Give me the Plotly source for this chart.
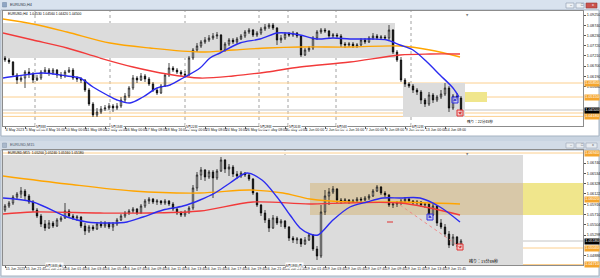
import plotly.graph_objects as go

W, H = 600, 278

# ---------------- DATA : upper window (EURUSD,H4) ----------------
TOP_OPEN = [
1.0710,1.0700,1.0690,1.0625,1.0600,1.0610,1.0640,1.0630,1.0600,1.0610,
1.0640,1.0650,1.0635,1.0650,1.0625,1.0620,1.0640,1.0650,1.0610,1.0605,
1.0600,1.0550,1.0480,1.0425,1.0440,1.0455,1.0460,1.0470,1.0460,1.0470,
1.0500,1.0520,1.0560,1.0610,1.0600,1.0620,1.0605,1.0580,1.0550,1.0535,
1.0570,1.0625,1.0660,1.0650,1.0640,1.0630,1.0625,1.0710,1.0750,1.0770,
1.0790,1.0800,1.0810,1.0820,1.0825,1.0750,1.0780,1.0800,1.0790,1.0805,
1.0820,1.0840,1.0850,1.0825,1.0835,1.0855,1.0865,1.0875,1.0860,1.0800,
1.0810,1.0830,1.0825,1.0835,1.0820,1.0725,1.0750,1.0760,1.0810,1.0840,
1.0850,1.0845,1.0820,1.0825,1.0820,1.0780,1.0775,1.0780,1.0770,1.0775,
1.0800,1.0790,1.0810,1.0820,1.0810,1.0815,1.0810,1.0850,1.0740,1.0700,
1.0600,1.0580,1.0570,1.0550,1.0540,1.0500,1.0480,1.0525,1.0500,1.0515,
1.0530,1.0560,1.0460,1.0520,1.0510]
TOP_HIGH = [
1.0720,1.0710,1.0695,1.0635,1.0620,1.0650,1.0660,1.0640,1.0625,1.0650,
1.0665,1.0660,1.0660,1.0655,1.0640,1.0650,1.0665,1.0660,1.0620,1.0615,
1.0605,1.0560,1.0490,1.0460,1.0470,1.0475,1.0485,1.0480,1.0485,1.0515,
1.0535,1.0570,1.0625,1.0620,1.0635,1.0630,1.0615,1.0590,1.0560,1.0580,
1.0635,1.0685,1.0670,1.0660,1.0650,1.0645,1.0720,1.0760,1.0785,1.0800,
1.0815,1.0825,1.0835,1.0840,1.0830,1.0790,1.0810,1.0810,1.0815,1.0830,
1.0850,1.0860,1.0855,1.0845,1.0865,1.0880,1.0885,1.0885,1.0865,1.0825,
1.0840,1.0840,1.0845,1.0840,1.0825,1.0760,1.0770,1.0820,1.0850,1.0860,
1.0860,1.0850,1.0835,1.0835,1.0830,1.0790,1.0790,1.0790,1.0785,1.0810,
1.0810,1.0820,1.0835,1.0830,1.0825,1.0825,1.0875,1.0855,1.0750,1.0715,
1.0610,1.0590,1.0580,1.0560,1.0550,1.0510,1.0540,1.0535,1.0525,1.0550,
1.0585,1.0570,1.0530,1.0535,1.0520]
TOP_LOW = [
1.0690,1.0680,1.0615,1.0580,1.0590,1.0560,1.0610,1.0585,1.0595,1.0600,
1.0630,1.0620,1.0625,1.0610,1.0605,1.0610,1.0635,1.0600,1.0590,1.0585,
1.0540,1.0470,1.0415,1.0415,1.0430,1.0445,1.0450,1.0440,1.0450,1.0460,
1.0490,1.0510,1.0550,1.0585,1.0595,1.0590,1.0570,1.0540,1.0525,1.0530,
1.0565,1.0615,1.0640,1.0630,1.0620,1.0615,1.0620,1.0700,1.0740,1.0760,
1.0780,1.0790,1.0800,1.0805,1.0735,1.0740,1.0770,1.0780,1.0780,1.0800,
1.0810,1.0830,1.0815,1.0815,1.0825,1.0845,1.0855,1.0850,1.0775,1.0785,
1.0800,1.0815,1.0815,1.0810,1.0715,1.0720,1.0740,1.0750,1.0800,1.0830,
1.0835,1.0810,1.0810,1.0810,1.0765,1.0760,1.0765,1.0760,1.0760,1.0770,
1.0780,1.0785,1.0800,1.0800,1.0805,1.0800,1.0800,1.0730,1.0690,1.0590,
1.0565,1.0560,1.0535,1.0525,1.0480,1.0465,1.0470,1.0485,1.0490,1.0505,
1.0520,1.0440,1.0450,1.0500,1.0420]
TOP_CLOSE = [
1.0700,1.0690,1.0625,1.0600,1.0610,1.0640,1.0630,1.0600,1.0610,1.0640,
1.0650,1.0635,1.0650,1.0625,1.0620,1.0640,1.0650,1.0610,1.0605,1.0600,
1.0550,1.0480,1.0425,1.0440,1.0455,1.0460,1.0470,1.0460,1.0470,1.0500,
1.0520,1.0560,1.0610,1.0600,1.0620,1.0605,1.0580,1.0550,1.0535,1.0570,
1.0625,1.0660,1.0650,1.0640,1.0630,1.0625,1.0710,1.0750,1.0770,1.0790,
1.0800,1.0810,1.0820,1.0825,1.0750,1.0780,1.0800,1.0790,1.0805,1.0820,
1.0840,1.0850,1.0825,1.0835,1.0855,1.0865,1.0875,1.0860,1.0800,1.0810,
1.0830,1.0825,1.0835,1.0820,1.0725,1.0750,1.0760,1.0810,1.0840,1.0850,
1.0845,1.0820,1.0825,1.0820,1.0780,1.0775,1.0780,1.0770,1.0775,1.0800,
1.0790,1.0810,1.0820,1.0810,1.0815,1.0810,1.0850,1.0740,1.0700,1.0600,
1.0580,1.0570,1.0550,1.0540,1.0500,1.0480,1.0525,1.0500,1.0515,1.0530,
1.0560,1.0460,1.0520,1.0510,1.0450]

TOP_MA_FAST_X = [-0.5,3,9.5,15.5,18.75,22,25.5,28,31.25,34.5,38,41.25,44.5,48.75,51.25,53.75,
                 58.75,63.75,68,70.5,73.75,78,82,86.25,92,95.5,98.75,102,105.5,108.75,112,113.5]
TOP_MA_FAST = [1.0610,1.0620,1.0635,1.0620,1.0610,1.0565,1.0525,1.0500,1.0485,1.0515,
               1.0560,1.0575,1.0610,1.0660,1.0710,1.0735,1.0785,1.0805,1.0835,1.0835,
               1.0825,1.0805,1.0810,1.0805,1.0805,1.0800,1.0775,1.0750,1.0690,1.0625,
               1.0560,1.0515]
TOP_MA_SLOW_X = [-0.5,7,15.5,26.25,36.25,48.75,57,65.5,73.75,86.25,98.75,106.25,113.75]
TOP_MA_SLOW = [1.0905,1.0880,1.0840,1.0785,1.0760,1.0740,1.0750,1.0760,1.0765,1.0765,1.0770,1.0750,1.0715]
TOP_MA_MID_X = [-0.5,7,15.5,23.75,32,40.5,48.75,57,65.5,73.75,86.25,98.75,106.25,113.75]
TOP_MA_MID = [1.0835,1.0800,1.0760,1.0710,1.0665,1.0630,1.0610,1.0620,1.0640,1.0665,1.0690,1.0725,1.0730,1.0730]

TOP_PRICE_TICKS = [1.0925, 1.0874, 1.0823, 1.0772, 1.0721, 1.0670, 1.0619, 1.0568]
TOP_LEVELS = [1.0585, 1.0515, 1.0435, 1.0418]
TOP_BID = 1.0450
TOP_TIME_LABELS = ["4 May 2023", "5 May 08:00", "8 May 16:00", "10 May 00:00", "11 May 08:00",
                   "12 May 16:00", "16 May 00:00", "17 May 08:00", "18 May 16:00", "22 May 00:00",
                   "23 May 08:00", "24 May 16:00", "26 May 00:00", "29 May 08:00", "30 May 16:00",
                   "1 Jun 00:00", "2 Jun 08:00", "5 Jun 16:00", "7 Jun 00:00", "8 Jun 08:00",
                   "9 Jun 16:00", "13 Jun 00:00", "14 Jun 08:00"]
TOP_SEP_X = [7.5, 26.25, 45, 63.5, 70.75, 82.75, 101.5]
TOP_SEP_LABELS = ["5月8日", "5月15日", "5月22日", "5月29日", "5月31日", "6月5日", "6月12日"]

# ---------------- DATA : lower window (EURUSD,M15) ----------------
BOT_OPEN = [
1.0580,1.0588,1.0594,1.0606,1.0612,1.0618,1.0608,1.0596,1.0580,1.0568,
1.0552,1.0544,1.0554,1.0548,1.0560,1.0564,1.0578,1.0568,1.0564,1.0566,
1.0548,1.0538,1.0546,1.0542,1.0552,1.0548,1.0554,1.0546,1.0552,1.0560,
1.0568,1.0574,1.0578,1.0582,1.0574,1.0588,1.0598,1.0602,1.0596,1.0598,
1.0594,1.0598,1.0592,1.0582,1.0574,1.0570,1.0576,1.0584,1.0624,1.0650,
1.0660,1.0646,1.0656,1.0644,1.0658,1.0680,1.0662,1.0666,1.0652,1.0648,
1.0654,1.0650,1.0642,1.0614,1.0590,1.0574,1.0560,1.0544,1.0564,1.0554,
1.0558,1.0546,1.0524,1.0520,1.0522,1.0512,1.0520,1.0530,1.0502,1.0488,
1.0576,1.0608,1.0616,1.0622,1.0600,1.0598,1.0600,1.0596,1.0598,1.0602,
1.0600,1.0604,1.0608,1.0618,1.0626,1.0614,1.0610,1.0590,1.0592,1.0594,
1.0598,1.0602,1.0598,1.0594,1.0596,1.0590,1.0592,1.0570,1.0588,1.0554,
1.0546,1.0532,1.0510,1.0526,1.0512]
BOT_HIGH = [
1.0592,1.0598,1.0610,1.0616,1.0626,1.0622,1.0612,1.0600,1.0584,1.0572,
1.0560,1.0560,1.0558,1.0564,1.0568,1.0594,1.0582,1.0572,1.0570,1.0568,
1.0554,1.0550,1.0550,1.0556,1.0558,1.0558,1.0556,1.0556,1.0564,1.0572,
1.0578,1.0582,1.0586,1.0584,1.0592,1.0602,1.0606,1.0604,1.0602,1.0600,
1.0602,1.0600,1.0596,1.0586,1.0578,1.0580,1.0588,1.0630,1.0656,1.0666,
1.0662,1.0660,1.0660,1.0662,1.0686,1.0682,1.0672,1.0670,1.0658,1.0658,
1.0656,1.0652,1.0644,1.0616,1.0592,1.0580,1.0564,1.0570,1.0568,1.0562,
1.0560,1.0548,1.0528,1.0526,1.0524,1.0526,1.0534,1.0532,1.0508,1.0590,
1.0620,1.0624,1.0628,1.0624,1.0604,1.0604,1.0602,1.0602,1.0606,1.0606,
1.0608,1.0612,1.0622,1.0630,1.0628,1.0618,1.0612,1.0596,1.0598,1.0602,
1.0606,1.0606,1.0600,1.0600,1.0598,1.0594,1.0594,1.0592,1.0590,1.0562,
1.0552,1.0538,1.0532,1.0528,1.0522]
BOT_LOW = [
1.0576,1.0584,1.0590,1.0602,1.0604,1.0600,1.0592,1.0576,1.0564,1.0546,
1.0538,1.0542,1.0544,1.0546,1.0556,1.0562,1.0564,1.0560,1.0558,1.0544,
1.0530,1.0534,1.0538,1.0540,1.0544,1.0544,1.0542,1.0538,1.0548,1.0558,
1.0564,1.0570,1.0574,1.0570,1.0572,1.0584,1.0592,1.0592,1.0590,1.0590,
1.0590,1.0588,1.0578,1.0570,1.0566,1.0566,1.0572,1.0580,1.0618,1.0640,
1.0638,1.0642,1.0604,1.0640,1.0656,1.0654,1.0648,1.0646,1.0642,1.0644,
1.0646,1.0638,1.0610,1.0586,1.0568,1.0554,1.0536,1.0542,1.0550,1.0546,
1.0542,1.0518,1.0514,1.0512,1.0506,1.0510,1.0518,1.0498,1.0480,1.0484,
1.0570,1.0590,1.0612,1.0594,1.0592,1.0594,1.0592,1.0594,1.0596,1.0596,
1.0598,1.0600,1.0606,1.0616,1.0610,1.0606,1.0586,1.0584,1.0586,1.0590,
1.0594,1.0594,1.0590,1.0588,1.0586,1.0584,1.0566,1.0568,1.0548,1.0542,
1.0526,1.0504,1.0508,1.0506,1.0504]
BOT_CLOSE = [
1.0588,1.0594,1.0606,1.0612,1.0618,1.0608,1.0596,1.0580,1.0568,1.0552,
1.0544,1.0554,1.0548,1.0560,1.0564,1.0578,1.0568,1.0564,1.0566,1.0548,
1.0538,1.0546,1.0542,1.0552,1.0548,1.0554,1.0546,1.0552,1.0560,1.0568,
1.0574,1.0578,1.0582,1.0574,1.0588,1.0598,1.0602,1.0596,1.0598,1.0594,
1.0598,1.0592,1.0582,1.0574,1.0570,1.0576,1.0584,1.0624,1.0650,1.0660,
1.0646,1.0656,1.0644,1.0658,1.0680,1.0662,1.0666,1.0652,1.0648,1.0654,
1.0650,1.0642,1.0614,1.0590,1.0574,1.0560,1.0544,1.0564,1.0554,1.0558,
1.0546,1.0524,1.0520,1.0522,1.0512,1.0520,1.0530,1.0502,1.0488,1.0576,
1.0608,1.0616,1.0622,1.0600,1.0598,1.0600,1.0596,1.0598,1.0602,1.0600,
1.0604,1.0608,1.0618,1.0626,1.0614,1.0610,1.0590,1.0592,1.0594,1.0598,
1.0602,1.0598,1.0594,1.0596,1.0590,1.0592,1.0570,1.0588,1.0554,1.0546,
1.0532,1.0510,1.0526,1.0512,1.0518]

BOT_MA_FAST_X = [-0.5,7,15.5,20.5,26.25,30.5,34.5,39.5,44.5,48.75,52.5,56.25,60.5,64.25,68,
                 71.25,73.75,76.25,78.25,82,86.25,90.5,94.5,98.75,103.75,108.75,113.75]
BOT_MA_FAST = [1.0604,1.0596,1.0566,1.0556,1.0554,1.0556,1.0566,1.0580,1.0588,1.0600,1.0614,
               1.0634,1.0654,1.0640,1.0606,1.0570,1.0544,1.0532,1.0530,1.0560,1.0586,1.0596,
               1.0604,1.0604,1.0604,1.0586,1.0556]
BOT_MA_SLOW_X = [-0.5,15.5,32,48.75,61.25,69.5,76.25,86.25,98.75,113.75]
BOT_MA_SLOW = [1.0648,1.0632,1.0618,1.0614,1.0620,1.0614,1.0602,1.0596,1.0596,1.0592]
BOT_MA_MID_X = [-0.5,7,23.75,36.25,48.75,62,76.25,98.75,113.75]
BOT_MA_MID = [1.0572,1.0576,1.0574,1.0574,1.0578,1.0596,1.0592,1.0594,1.0570]

BOT_PRICE_TICKS = [1.06740, 1.06534, 1.06328, 1.06122, 1.05916, 1.05710, 1.05504, 1.05298, 1.04886]
BOT_LEVELS = [1.0694, 1.0602, 1.0504, 1.0471]
BOT_BID = 1.0518
BOT_TIME_LABELS = ["15 Jun 2023", "15 Jun 21:45", "15 Jun 23:45", "16 Jun 01:45", "16 Jun 03:45",
                   "16 Jun 05:45", "16 Jun 07:45", "16 Jun 09:45", "16 Jun 11:45", "16 Jun 13:45",
                   "16 Jun 15:45", "16 Jun 17:45", "16 Jun 19:45", "16 Jun 21:45", "16 Jun 23:45",
                   "19 Jun 01:45", "19 Jun 03:45", "19 Jun 05:45", "19 Jun 07:45", "19 Jun 09:45",
                   "19 Jun 11:45", "19 Jun 13:45", "19 Jun 15:45"]
BOT_SEP_X = [10, 70]
BOT_SEP_LABELS = ["6月16日(金)", "6月19日(月)"]

TOP_X = list(range(len(TOP_CLOSE)))
BOT_X = list(range(len(BOT_CLOSE)))
TOP_TICK_X = list(range(0, 5 * len(TOP_TIME_LABELS), 5))
BOT_TICK_X = list(range(0, 5 * len(BOT_TIME_LABELS), 5))

# ---------------- helpers for window chrome (pixel -> paper) ----------------
def PX(x):
    return x / W

def PY(y):
    return 1 - y / H

FONT = "Liberation Sans"
JP = "Noto Sans CJK JP"

fig = go.Figure()

cs = dict(increasing=dict(line=dict(color="#000000", width=0.7), fillcolor="#ffffff"),
          decreasing=dict(line=dict(color="#000000", width=0.7), fillcolor="#000000"),
          whiskerwidth=0, hoverinfo="skip", showlegend=False)
fig.add_trace(go.Candlestick(x=TOP_X, open=TOP_OPEN, high=TOP_HIGH, low=TOP_LOW, close=TOP_CLOSE,
                             xaxis="x", yaxis="y", **cs))
fig.add_trace(go.Candlestick(x=BOT_X, open=BOT_OPEN, high=BOT_HIGH, low=BOT_LOW, close=BOT_CLOSE,
                             xaxis="x2", yaxis="y2", **cs))

ORANGE, RED, BLUE = "#ffa500", "#f23a3a", "#2b2bf0"
for xs, ys, col, w, xa, ya in [
    (TOP_MA_SLOW_X, TOP_MA_SLOW, ORANGE, 1.3, "x", "y"),
    (TOP_MA_MID_X, TOP_MA_MID, RED, 1.3, "x", "y"),
    (TOP_MA_FAST_X, TOP_MA_FAST, BLUE, 1.4, "x", "y"),
    (BOT_MA_SLOW_X, BOT_MA_SLOW, ORANGE, 1.3, "x2", "y2"),
    (BOT_MA_MID_X, BOT_MA_MID, RED, 1.3, "x2", "y2"),
    (BOT_MA_FAST_X, BOT_MA_FAST, BLUE, 1.4, "x2", "y2"),
]:
    fig.add_trace(go.Scatter(x=xs, y=ys, mode="lines", xaxis=xa, yaxis=ya,
                             line=dict(color=col, width=w, shape="spline", smoothing=0.9),
                             hoverinfo="skip", showlegend=False))

# trade markers
TRADE_TOP_X, TRADE_TOP_Y = [112.5, 113.75], [1.0500, 1.0435]
TRADE_BOT_X, TRADE_BOT_Y = [106.25, 113.75], [1.0566, 1.0506]
for xs, ys, xa, ya in [(TRADE_TOP_X, TRADE_TOP_Y, "x", "y"), (TRADE_BOT_X, TRADE_BOT_Y, "x2", "y2")]:
    fig.add_trace(go.Scatter(x=xs, y=ys, mode="markers", xaxis=xa, yaxis=ya,
                             marker=dict(symbol="square", size=6,
                                         color=["rgba(180,180,255,0.6)", "rgba(255,190,190,0.7)"],
                                         line=dict(color=["#3030e0", "#e03030"], width=1)),
                             hoverinfo="skip", showlegend=False))
    fig.add_trace(go.Scatter(x=xs, y=ys, mode="markers", xaxis=xa, yaxis=ya,
                             marker=dict(symbol=["triangle-up", "triangle-down"], size=3,
                                         color=["#2020d0", "#d02020"]),
                             hoverinfo="skip", showlegend=False))

shapes = []

def prect(x0, y0, x1, y1, fill, line=None, lw=0):
    shapes.append(dict(type="rect", xref="paper", yref="paper", x0=PX(x0), x1=PX(x1),
                       y0=PY(y1), y1=PY(y0), fillcolor=fill,
                       line=dict(color=line or fill, width=lw), layer="below"))

# window chrome
prect(0, 0, 600, 10, "#d8e2ee")
prect(1, 10, 599, 136, "#ffffff", "#a6b3c2", 1)
prect(0, 141, 600, 150, "#d2dbe6")
prect(1, 150, 599, 276, "#ffffff", "#a6b3c2", 1)
prect(2.5, 2.5, 6.5, 7, "#8fa6c4", "#6d84a3", 0.5)
prect(2.5, 143, 6.5, 147.5, "#a9b8cb", "#8496ad", 0.5)
for (x0, x1, fill, ln) in [(566, 574, "#edf1f6", "#8a99ab"), (576, 584, "#edf1f6", "#8a99ab"),
                           (586, 597, "#c9524c", "#9a3a35")]:
    prect(x0, 3, x1, 8, fill, ln, 0.6)
for (x0, x1) in [(566, 574), (576, 584), (586, 597)]:
    prect(x0, 143, x1, 148, "#e7ebf0", "#9aa6b5", 0.6)

GRAY, TAN, KHAKI = "#dcdcdc", "#d8c8a8", "#f0e68c"

def drect(xa, ya, x0, x1, y0, y1, fill):
    shapes.append(dict(type="rect", xref=xa, yref=ya, x0=x0, x1=x1, y0=y0, y1=y1,
                       fillcolor=fill, line=dict(width=0), layer="below"))

# zones (time index / price)
drect("x", "y", -0.5, 97.5, 1.0710, 1.0885, GRAY)
drect("x", "y", 99.5, 115, 1.0415, 1.0585, GRAY)
drect("x", "y", 115, 120.5, 1.0490, 1.0540, KHAKI)
drect("x2", "y2", -0.5, 129.5, 1.0470, 1.0690, GRAY)
drect("x2", "y2", 76.25, 129.5, 1.0570, 1.0634, TAN)
drect("x2", "y2", 129.5, 150, 1.0570, 1.0634, KHAKI)

# period separators
for xs, xa, ya in [(TOP_SEP_X, "x", "y"), (BOT_SEP_X, "x2", "y2")]:
    for sx in xs:
        shapes.append(dict(type="line", xref=xa, yref=ya + " domain", x0=sx, x1=sx, y0=0, y1=1,
                           line=dict(color="#8c8c8c", width=0.8, dash="dot"), layer="below"))

# horizontal levels and bid lines
for lv_list, bid, xa, ya in [(TOP_LEVELS, TOP_BID, "x", "y"), (BOT_LEVELS, BOT_BID, "x2", "y2")]:
    for lv in lv_list:
        shapes.append(dict(type="line", xref=xa + " domain", yref=ya, x0=0, x1=1, y0=lv, y1=lv,
                           line=dict(color="#fccf8e", width=1), layer="below"))
    shapes.append(dict(type="line", xref=xa + " domain", yref=ya, x0=0, x1=1, y0=bid, y1=bid,
                       line=dict(color="#c4c4c4", width=1), layer="below"))

# trade connection line and small dash in lower window
shapes.append(dict(type="line", xref="x2", yref="y2", x0=98.75, y0=1.0590, x1=113.75, y1=1.0506,
                   line=dict(color="#f08a8a", width=1, dash="dot"), layer="above"))
shapes.append(dict(type="line", xref="x2", yref="y2", x0=95.5, y0=1.0556, x1=97, y1=1.0556,
                   line=dict(color="#e03030", width=1), layer="above"))

ann = []

def tag(y, ya, bg, fg="#ffffff"):
    ann.append(dict(xref="paper", x=PX(583.5), xanchor="left", yref=ya, y=y, yanchor="middle",
                    text=f"{y:.5f}", showarrow=False, bgcolor=bg, borderpad=0.3,
                    font=dict(size=3.8, color=fg, family=FONT)))

for lv in TOP_LEVELS:
    tag(lv, "y", "#f5a52c")
tag(TOP_BID, "y", "#000000")
for lv in BOT_LEVELS:
    tag(lv, "y2", "#f5a52c")
tag(BOT_BID, "y2", "#000000")

def ptext(x, y, text, size=3.8, color="#2b3644", family=FONT):
    ann.append(dict(xref="paper", yref="paper", x=PX(x), y=PY(y), xanchor="left", yanchor="middle",
                    text=text, showarrow=False, font=dict(size=size, color=color, family=family)))

ptext(8, 5, "EURUSD,H4")
ptext(8, 145, "EURUSD,M15", color="#4a5666")
ptext(6, 13.5, "EURUSD,H4  1.04530 1.04560 1.04420 1.04500", size=3.4, color="#000000")
ptext(6, 152.5, "EURUSD,M15  1.05200 1.05240 1.05160 1.05180", size=3.4, color="#000000")
for bx, by, g, c in [(568, 5.3, "–", "#333"), (578.5, 5.3, "□", "#333"), (589.5, 5.3, "x", "#fff"),
                     (568, 145.3, "–", "#555"), (578.5, 145.3, "□", "#555"), (589.5, 145.3, "x", "#555")]:
    ptext(bx, by, g, size=3.8, color=c)

# remaining-time texts
ann.append(dict(xref="x", yref="y", x=115, y=1.0395, xanchor="left", yanchor="middle",
                text="残り：22分45秒", showarrow=False, font=dict(size=3.6, color="#000", family=JP)))
ann.append(dict(xref="x2", yref="y2", x=115.5, y=1.0478, xanchor="left", yanchor="middle",
                text="残り：15分49秒", showarrow=False, font=dict(size=4.0, color="#000", family=JP)))

# separator labels
for xs, labs, xa, ya in [(TOP_SEP_X, TOP_SEP_LABELS, "x", "y"), (BOT_SEP_X, BOT_SEP_LABELS, "x2", "y2")]:
    for sx, lab in zip(xs, labs):
        ann.append(dict(xref=xa, yref=ya + " domain", x=sx, y=0, xanchor="left", yanchor="middle",
                        text=lab, showarrow=False, bgcolor="#ffffff", borderpad=0,
                        font=dict(size=3.2, color="#000", family=JP)))

# chart shift markers
for ya in ["y", "y2"]:
    ann.append(dict(xref="x" if ya == "y" else "x2", yref=ya + " domain", x=115.5, y=1,
                    xanchor="center", yanchor="top", text="▼", showarrow=False,
                    font=dict(size=3, color="#808080", family="DejaVu Sans")))

def xaxis_cfg(dom_anchor, tickx, labels):
    return dict(domain=[PX(3), PX(583)], range=[-0.5, 144.5], anchor=dom_anchor,
                showgrid=False, zeroline=False, showline=True, linecolor="#8c8c8c", linewidth=1,
                mirror=True, tickmode="array", tickvals=tickx, ticktext=labels,
                ticks="outside", ticklen=2, tickcolor="#555", tickwidth=0.6,
                ticklabelposition="outside right", tickangle=0, automargin=False,
                tickfont=dict(size=3.5, color="#222", family=FONT),
                rangeslider=dict(visible=False), fixedrange=True)

def yaxis_cfg(anchor, y0px, y1px, rng, ticks):
    return dict(domain=[PY(y1px), PY(y0px)], range=rng, anchor=anchor, side="right",
                showgrid=False, zeroline=False, showline=True, linecolor="#8c8c8c", linewidth=1,
                mirror=True, tickmode="array", tickvals=ticks, ticktext=[f"{t:.5f}" for t in ticks],
                ticks="outside", ticklen=2, tickcolor="#555", tickwidth=0.6, automargin=False,
                tickfont=dict(size=3.8, color="#222", family=FONT), fixedrange=True)

fig.update_layout(
    width=W, height=H, margin=dict(l=0, r=0, t=0, b=0, pad=0),
    paper_bgcolor="#c9d4e1", plot_bgcolor="#ffffff",
    showlegend=False, boxgap=0.5,
    xaxis=xaxis_cfg("y", TOP_TICK_X, TOP_TIME_LABELS),
    yaxis=yaxis_cfg("x", 11, 126, [1.0370, 1.0945], TOP_PRICE_TICKS),
    xaxis2=xaxis_cfg("y2", BOT_TICK_X, BOT_TIME_LABELS),
    yaxis2=yaxis_cfg("x2", 150, 265, [1.0470, 1.0700], BOT_PRICE_TICKS),
    shapes=shapes, annotations=ann,
)

fig.write_html("out.html", config={"displayModeBar": False})
